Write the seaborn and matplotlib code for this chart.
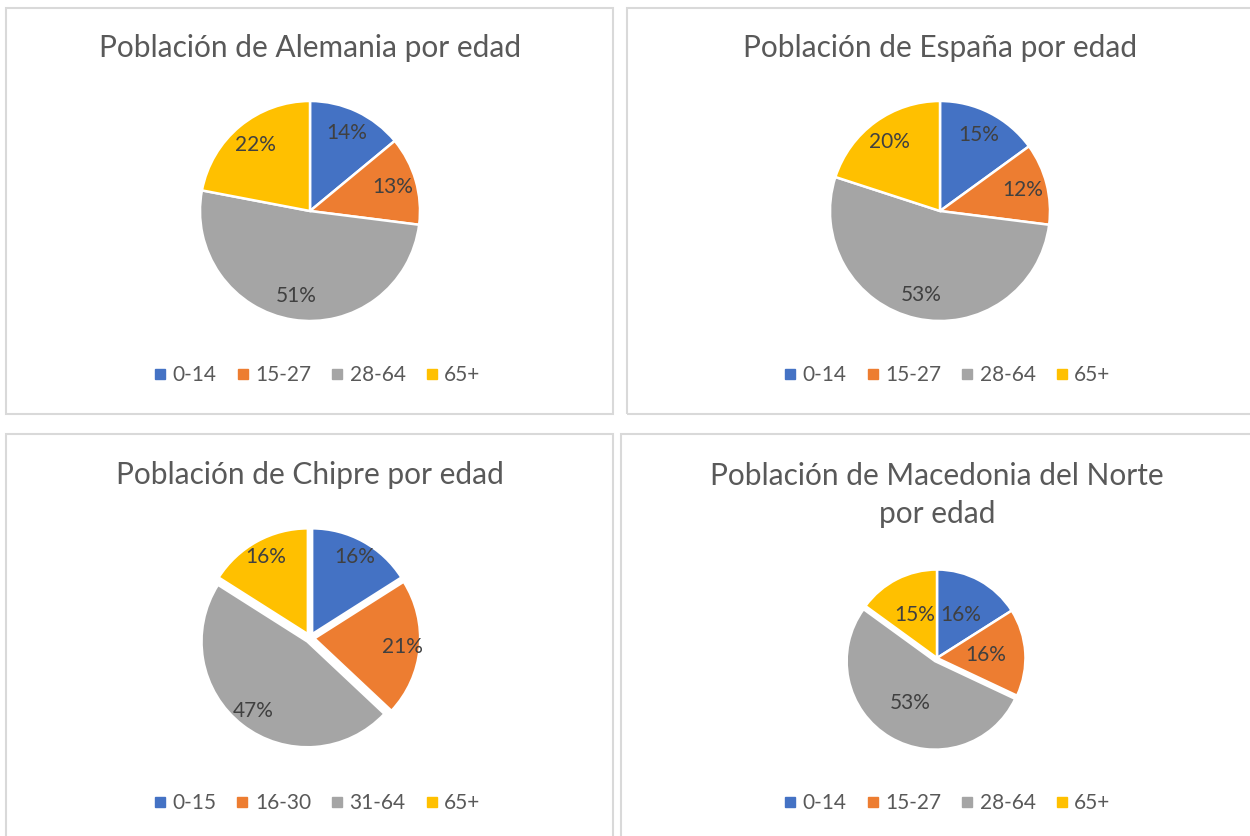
import matplotlib.pyplot as plt
import seaborn as sns
from matplotlib.lines import Line2D
from matplotlib.patches import Rectangle

sns.set_theme(style="white")
plt.rcParams["font.family"] = ["Lato", "DejaVu Sans"]

# data
titles = [
    "Población de Alemania por edad",
    "Población de España por edad",
    "Población de Chipre por edad",
    "Población de Macedonia del Norte\npor edad",
]
groups_a = ["0-14", "15-27", "28-64", "65+"]
groups_chipre = ["0-15", "16-30", "31-64", "65+"]
alemania = [14, 13, 51, 22]
espana = [15, 12, 53, 20]
chipre = [16, 21, 47, 16]
macedonia = [16, 16, 53, 15]

colors = ["#4472C4", "#ED7D31", "#A5A5A5", "#FFC000"]
W, H = 1250, 836


def fx(x):
    return x / W


def fy(y):
    return 1 - y / H


def main():
    fig = plt.figure(figsize=(12.5, 8.36), dpi=100)
    fig.patch.set_facecolor("white")

    # panel frames
    frames = [(6, 8, 613, 414), (627, 8, 1262, 414), (6, 434, 613, 848), (621, 434, 1262, 848)]
    for x0, y0, x1, y1 in frames:
        fig.patches.append(Rectangle((fx(x0), fy(y1)), fx(x1 - x0), (y1 - y0) / H,
                                     transform=fig.transFigure, fill=False,
                                     edgecolor="#D9D9D9", linewidth=1.5))

    charts = [
        (alemania, groups_a, (310, 211), 110, 375, 315, [0, 0, 0, 0], 0.78),
        (espana, groups_a, (940, 211), 110, 375, 945, [0, 0, 0, 0], 0.78),
        (chipre, groups_chipre, (310, 638), 110, 803, 315, [0.04, 0.04, 0.04, 0.04], 0.8),
        (macedonia, groups_a, (937, 658), 92, 803, 945, [0, 0, 0.04, 0], 0.53),
    ]

    for (vals, labels, (cx, cy), r, ly, lx, expl, pd), title in zip(charts, titles):
        ax = fig.add_axes([fx(cx - r), fy(cy + r), 2 * r / W, 2 * r / H])
        rad = 1 / (1 + max(expl))
        ax.pie(vals, colors=colors, startangle=90, counterclock=False,
               explode=expl, radius=rad,
               autopct=lambda p: f"{p:.0f}%", pctdistance=pd / rad,
               wedgeprops=dict(edgecolor="white", linewidth=1.8),
               textprops=dict(color="#404040", fontsize=15))
        ax.set_xlim(-1, 1)
        ax.set_ylim(-1, 1)
        ax.set_aspect("equal")
        ax.axis("off")

        ty = 48 if cy < 400 else (475 if "\n" not in title else 495)
        fig.text(fx(cx), fy(ty), title, ha="center", va="center",
                 fontsize=21.5, color="#595959", linespacing=1.45)

        handles = [Line2D([], [], marker="s", linestyle="none", markersize=7,
                          markerfacecolor=c, markeredgecolor=c) for c in colors]
        fig.legend(handles, labels, loc="center", bbox_to_anchor=(fx(lx), fy(ly)),
                   ncol=4, frameon=False, fontsize=15, labelcolor="#595959",
                   handletextpad=0.1, columnspacing=0.75, handlelength=1.0)

    plt.savefig("out.png", dpi=100)


if __name__ == "__main__":
    main()
